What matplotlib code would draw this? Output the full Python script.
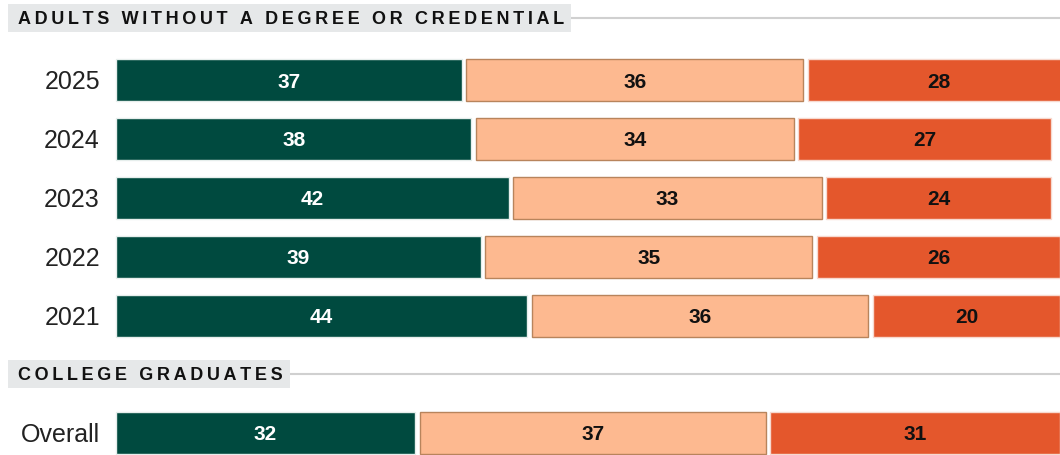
import matplotlib.pyplot as plt
from matplotlib.patches import Rectangle

plt.rcParams['font.family'] = ['Liberation Sans', 'DejaVu Sans']

# shares per group, left to right
years = ['2025', '2024', '2023', '2022', '2021']
seg_a = [37, 38, 42, 39, 44]
seg_b = [36, 34, 33, 35, 36]
seg_c = [28, 27, 24, 26, 20]

grad_label = 'Overall'
grad_a = [32]
grad_b = [37]
grad_c = [31]

header_top = 'ADULTS WITHOUT A DEGREE OR CREDENTIAL'
header_bottom = 'COLLEGE GRADUATES'

colors = ['#004a3f', '#fdb990', '#e4572c']
edges = ['#e6eeec', '#b8845c', '#f7d9cf']
text_colors = ['white', '#111111', '#111111']

W, H = 1060, 456
px_per_unit = 9.35
gap = 4.5 / px_per_unit
bar_h = 42

fig = plt.figure(figsize=(W / 100, H / 100), dpi=100)
ax = fig.add_axes([0, 0, 1, 1])
x0 = 116 / px_per_unit
ax.set_xlim(-x0, (W - 116) / px_per_unit)
ax.set_ylim(H, 0)
ax.axis('off')


def draw_row(yc, label, vals):
    left = 0
    for i, v in enumerate(vals):
        ax.barh(yc, v, left=left, height=bar_h, color=colors[i],
                edgecolor=edges[i], linewidth=1.0)
        ax.text(left + v / 2, yc + 1, str(v), ha='center', va='center',
                fontsize=15, fontweight='bold', color=text_colors[i])
        left += v + gap
    ax.text(-16 / px_per_unit, yc + 1, label, ha='right', va='center',
            fontsize=18, color='#222222')


def draw_header(yc, text, box_right):
    # widen letter spacing with thin spaces
    spaced = '\u2009'.join(text)
    ax.add_patch(Rectangle((-108 / px_per_unit, yc - 14),
                           (box_right - 8) / px_per_unit, 28,
                           facecolor='#e6e8e9', edgecolor='none', zorder=1))
    ax.plot([(box_right - 116) / px_per_unit, (W - 116) / px_per_unit],
            [yc, yc], color='#d0d0d0', lw=1.5, zorder=0)
    ax.text(-98 / px_per_unit, yc + 1, spaced, ha='left', va='center',
            fontsize=13, fontweight='bold', color='#111111', zorder=2)


draw_header(19, header_top, 571)
for k, yr in enumerate(years):
    draw_row(81 + 59 * k, yr, [seg_a[k], seg_b[k], seg_c[k]])

draw_header(375, header_bottom, 290)
draw_row(434, grad_label, [grad_a[0], grad_b[0], grad_c[0]])

fig.savefig('out.png', dpi=100)
